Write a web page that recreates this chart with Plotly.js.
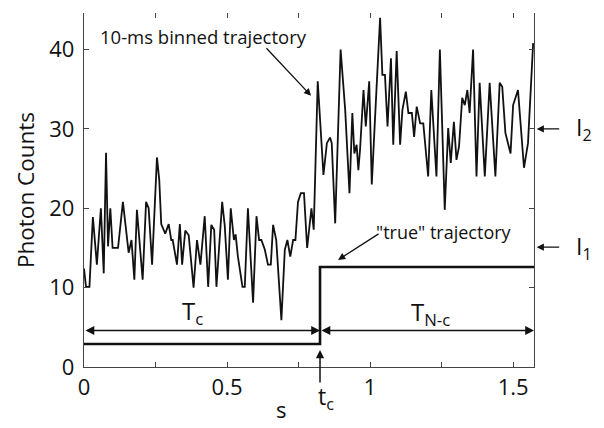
<!DOCTYPE html>
<html>
<head>
<meta charset="utf-8">
<script src="https://cdn.plot.ly/plotly-3.0.1.min.js"></script>
<style>html,body{margin:0;padding:0;background:#fff;}#chart{width:604px;height:428px;}</style>
</head>
<body>
<div id="chart"></div>
<script>
// 10-ms binned photon-count trajectory (seconds, counts)
const binTimes = [
  0.000,0.007,0.019,0.031,0.045,0.059,0.069,0.077,0.084,0.092,0.100,0.110,0.119,0.136,0.156,0.166,0.176,0.185,0.205,0.217,
  0.226,0.238,0.255,0.263,0.270,0.284,0.296,0.305,0.310,0.325,0.335,0.343,0.354,0.366,0.383,0.395,0.407,
  0.422,0.434,0.445,0.455,0.463,0.483,0.492,0.503,0.513,0.524,0.530,0.538,0.554,0.562,0.573,0.591,0.603,0.612,0.620,
  0.632,0.643,0.653,0.661,0.672,0.690,0.702,0.711,0.721,0.731,0.739,0.748,0.758,0.769,0.780,0.795,0.803,
  0.817,0.837,0.849,0.860,0.866,0.878,0.897,0.913,0.928,0.938,0.945,0.953,0.959,0.965,0.977,0.985,0.997,1.006,1.017,
  1.035,1.043,1.052,1.061,1.073,1.081,1.093,1.105,1.113,1.125,1.134,1.146,1.154,1.163,1.175,1.186,
  1.203,1.214,1.232,1.244,1.261,1.273,1.282,1.293,1.302,1.311,1.322,1.331,1.340,1.348,1.360,1.372,1.383,1.401,1.418,
  1.438,1.453,1.462,1.473,1.491,1.500,1.517,1.538,1.552,1.570
];
const photonCounts = [
  12.4,10.1,10.1,18.9,12.9,20,11.8,27,15.2,20,15,15,15,20.8,14.4,16,11,19.8,11,20.8,
  20,12.9,26.4,23.6,18,16.8,18,16,16,12.9,18,12.9,17.2,16.6,10,16,12.9,
  19,10.1,17.9,17.3,10.1,20.8,17.8,11,20,16,16.7,13.9,10.1,10.1,20,8.1,19,16,16,
  14.8,12.9,12.9,17.9,16,5.9,14.8,16,13.9,16,16,20.8,21.9,21.9,15,20,17.3,
  36,24.2,28.2,28.9,28.2,18.1,40,32.4,21.9,32,26.9,28,24.8,27.4,34.9,30.3,36,23,31.1,
  44,36.8,36.8,30.3,38.9,28,39.8,28,32.4,34.7,32,32,29,32.8,30.7,30.7,
  24,34.9,24,40,19.8,30.1,25.7,30.9,26.1,27.8,33.9,33,34.9,32,40,24,35.8,24,35.8,
  24,35.8,35.3,29.5,26.9,33,34.9,25.1,28.2,40.8
];
// "true" two-state trajectory
const tc = 0.825;
const trueTimes = [0, tc, 1.573];
const trueLevels = [2.9, 12.6, 12.6];
// intensity levels marked at the right edge
const levelI1 = 15.1;
const levelI2 = 30;
// interval arrows
const intervalY = 4.6;
const xMax = 1.573, yMax = 44.6;
const xTickVals = [0,0.25,0.5,0.75,1,1.25,1.5];
const xTickText = ['0','','0.5','','1','','1.5'];
const yTickVals = [0,10,20,30,40];

const FONT = 'Open Sans, Noto Sans, sans-serif';
const ink = '#111';

const traces = [
  {x: binTimes, y: photonCounts, type:'scatter', mode:'lines',
   line:{color:ink, width:1.8}, hoverinfo:'skip', showlegend:false},
  {x: trueTimes, y: trueLevels, type:'scatter', mode:'lines', xaxis:'x2',
   line:{color:ink, width:2.6, shape:'hv'}, hoverinfo:'skip', showlegend:false}
];

const arrowBase = {showarrow:true, arrowcolor:ink, arrowhead:2, arrowsize:1.1, arrowwidth:1.3, text:''};
const txt = (o) => Object.assign({showarrow:false, xanchor:'center', yanchor:'middle'}, o);

const annotations = [
  txt({text:'10-ms binned trajectory', xref:'paper', yref:'paper', x:(203-84)/450, y:(367-36)/354,
   font:{family:FONT, size:18.5, color:ink}}),
  Object.assign({}, arrowBase, {xref:'x', yref:'y', x:(311-84)/286, y:(367-96)/7.93, ax:-46, ay:-49}),
  txt({text:'"true" trajectory', xref:'paper', yref:'paper', x:(444-84)/450, y:(367-232)/354,
   font:{family:FONT, size:18, color:ink}}),
  Object.assign({}, arrowBase, {xref:'x', yref:'y', x:(338-84)/286, y:(367-260)/7.93, ax:42, ay:-27}),
  // interval double arrows
  Object.assign({}, arrowBase, {xref:'x', yref:'y', axref:'x', ayref:'y', x:tc, y:intervalY, ax:0, ay:intervalY, arrowside:'end+start', arrowwidth:1.6, standoff:0, startstandoff:0}),
  Object.assign({}, arrowBase, {xref:'x', yref:'y', axref:'x', ayref:'y', x:xMax, y:intervalY, ax:tc, ay:intervalY, arrowside:'end+start', arrowwidth:1.6, standoff:0, startstandoff:0}),
  txt({text:'T<sub>c</sub>', xref:'x', yref:'y', x:(192-84)/286, y:(367-312)/7.93,
   font:{family:FONT, size:24, color:ink}}),
  txt({text:'T<sub>N-c</sub>', xref:'x', yref:'y', x:(430-84)/286, y:(367-313)/7.93,
   font:{family:FONT, size:24, color:ink}}),
  // t_c marker below axis
  Object.assign({}, arrowBase, {xref:'x', yref:'y', x:tc, y:(367-350)/7.93, ax:0, ay:34, arrowwidth:1.5}),
  txt({text:'t<sub>c</sub>', xref:'x', yref:'paper', x:tc, y:0, yshift:-30, xshift:6,
   font:{family:FONT, size:23, color:ink}}),
  // x-axis title, placed left of centre as in the figure
  txt({text:'s', xref:'paper', yref:'paper', x:(281-84)/450, y:0, yshift:-42,
   font:{family:FONT, size:22, color:ink}}),
  // intensity level markers at right edge
  Object.assign({}, arrowBase, {xref:'paper', yref:'y', x:1.006, y:levelI2, ax:24, ay:0}),
  txt({text:'I<sub>2</sub>', xref:'paper', yref:'y', x:1, y:levelI2, xshift:50,
   font:{family:FONT, size:23, color:ink}}),
  Object.assign({}, arrowBase, {xref:'paper', yref:'y', x:1.006, y:levelI1, ax:24, ay:0}),
  txt({text:'I<sub>1</sub>', xref:'paper', yref:'y', x:1, y:levelI1, xshift:50,
   font:{family:FONT, size:23, color:ink}})
];

const layout = {
  width:604, height:428,
  margin:{l:84, r:70, t:13, b:61, pad:0},
  paper_bgcolor:'#fff', plot_bgcolor:'#fff',
  font:{family:FONT, size:22, color:ink},
  showlegend:false,
  xaxis:{range:[0,xMax], tickvals:xTickVals, ticktext:xTickText, ticks:'inside', ticklen:5,
         tickcolor:'#444', showline:true, linecolor:'#444', linewidth:1.2, mirror:false,
         showgrid:false, zeroline:false, automargin:false,
         tickfont:{family:FONT, size:22, color:ink}},
  xaxis2:{range:[0,xMax], overlaying:'x', side:'top', anchor:'y', tickvals:xTickVals,
          ticks:'inside', ticklen:5, tickcolor:'#444', showticklabels:false, showline:false,
          showgrid:false, zeroline:false},
  yaxis:{range:[0,yMax], tickvals:yTickVals, ticks:'inside', ticklen:5, tickcolor:'#444',
         showline:true, linecolor:'#444', linewidth:1.2, mirror:'ticks',
         showgrid:false, zeroline:false, automargin:false, ticklabelstandoff:4,
         title:{text:'Photon Counts', font:{family:FONT, size:22.5, color:ink}, standoff:8},
         tickfont:{family:FONT, size:22, color:ink}},
  annotations: annotations
};

Plotly.newPlot('chart', traces, layout, {staticPlot:true, displayModeBar:false});
</script>
</body>
</html>
